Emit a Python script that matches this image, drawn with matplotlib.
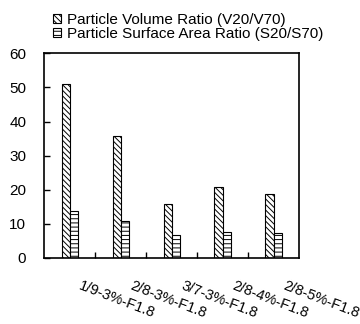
import numpy as np
import matplotlib.pyplot as plt
from matplotlib.patches import Patch

plt.rcParams['font.family'] = ['Liberation Sans', 'DejaVu Sans']
plt.rcParams['hatch.linewidth'] = 0.7

# data
categories = ['1/9-3%-F1.8', '2/8-3%-F1.8', '3/7-3%-F1.8', '2/8-4%-F1.8', '2/8-5%-F1.8']
volume_ratio = [50.9, 35.7, 15.7, 20.7, 18.6]
surface_ratio = [13.8, 10.8, 6.6, 7.5, 7.2]
series_names = ['Particle Volume Ratio (V20/V70)', 'Particle Surface Area Ratio (S20/S70)']

fig = plt.figure(figsize=(3.6, 3.24), dpi=100)
ax = fig.add_axes([0.123, 0.2052, 0.7078, 0.6297])

x = np.arange(len(categories))
w = 0.16
ax.bar(x - w / 2, volume_ratio, w, color='white', edgecolor='black',
       hatch='\\\\\\\\\\\\', linewidth=0.8)
ax.bar(x + w / 2, surface_ratio, w, color='white', edgecolor='black',
       hatch='----', linewidth=0.8)

ax.set_xlim(-0.5, len(categories) - 0.5)
ax.set_ylim(0, 60)
ax.set_yticks(range(0, 61, 10))
ax.tick_params(axis='y', direction='in', length=4, width=1, labelsize=11, pad=13)
ax.set_xticks(np.arange(0.5, len(categories) - 1, 1))
ax.set_xticklabels([])
ax.tick_params(axis='x', direction='in', length=4, width=1)
for s in ax.spines.values():
    s.set_linewidth(1.2)

# rotated category labels
for i, c in enumerate(categories):
    ax.annotate(c, xy=(i, 0), xycoords=('data', 'axes fraction'),
                xytext=(6.0, -23.0), textcoords='offset points',
                rotation=-21, rotation_mode='anchor', ha='left', va='baseline',
                fontsize=10.5)

handles = [Patch(facecolor='white', edgecolor='black', hatch='\\\\\\\\\\\\', linewidth=0.8),
           Patch(facecolor='white', edgecolor='black', hatch='----', linewidth=0.8)]
fig.legend(handles, series_names, loc='upper left', bbox_to_anchor=(0.147, 0.96),
           frameon=False, fontsize=11, handlelength=0.55, handleheight=0.55,
           handletextpad=0.4, labelspacing=-0.02, borderaxespad=0, borderpad=0)

plt.savefig('out.png', dpi=100)
